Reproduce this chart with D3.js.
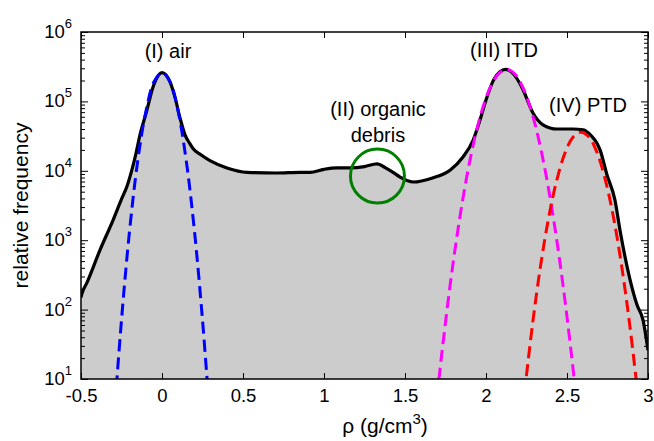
<!DOCTYPE html>
<html lang="en">
<head>
<meta charset="UTF-8">
<title>Density histogram</title>
<script src="https://d3js.org/d3.v7.min.js"></script>
<style>
  body { margin: 0; background: #fff; }
  svg text { font-family: "Liberation Sans", Arial, sans-serif; fill: #000; }
</style>
</head>
<body>
<svg id="chart" width="654" height="441"></svg>
<script>
// histogram envelope
const histRho = [-0.5, -0.494, -0.463, -0.383, -0.302, -0.25, -0.216, -0.185, -0.16, -0.136, -0.1, -0.05, 0, 0.05, 0.08, 0.111, 0.142, 0.17, 0.191, 0.24, 0.296, 0.401, 0.525, 0.71, 0.852, 0.914, 1.0, 1.08, 1.16, 1.25, 1.327, 1.38, 1.426, 1.47, 1.55, 1.67, 1.78, 1.858, 1.92, 1.963, 2.0, 2.05, 2.12, 2.21, 2.23, 2.29, 2.352, 2.438, 2.537, 2.6, 2.65, 2.685, 2.704, 2.747, 2.796, 2.827, 2.889, 2.932, 2.969, 3.0];
const histFreq = [150, 170, 245, 720, 1950, 3900, 6000, 10500, 18000, 33000, 65000, 175000, 260000, 190000, 115000, 58000, 33000, 25000, 21000, 17000, 14000, 11000, 9500, 9300, 9500, 9500, 10500, 11000, 11000, 11500, 12600, 11000, 9500, 8100, 6900, 7900, 10300, 15800, 27500, 54000, 105000, 210000, 290000, 180000, 145000, 68000, 46000, 40000, 40000, 39000, 32000, 25000, 20000, 8700, 3800, 1400, 270, 117, 71, 26];

// fitted peaks (dashed)
const airRho = [-0.29, -0.25, -0.2, -0.15, -0.1, -0.05, 0, 0.05, 0.1, 0.15, 0.2, 0.25, 0.29];
const airFreq = [4.2, 71, 1380, 13800, 70800, 190000, 260000, 190000, 70800, 13800, 1380, 71, 4.2];
const itdRho = [1.697, 1.727, 1.777, 1.827, 1.877, 1.927, 1.977, 2.027, 2.077, 2.127, 2.177, 2.227, 2.277, 2.327, 2.377, 2.427, 2.477, 2.527, 2.557];
const itdFreq = [5.4, 23, 211, 1430, 7240, 27300, 76600, 160000, 249000, 290000, 249000, 160000, 76600, 27300, 7240, 1430, 211, 23, 5.4];
const ptdRho = [2.237, 2.287, 2.337, 2.387, 2.437, 2.487, 2.537, 2.587, 2.637, 2.687, 2.737, 2.787, 2.837, 2.887, 2.937];
const ptdFreq = [6.1, 61, 430, 2130, 7360, 17900, 30400, 36000, 30400, 17900, 7360, 2130, 430, 61, 6.1];

// organic debris marker
const debrisRho = 1.33;
const debrisFreq = 8400;

const xTicks = [-0.5, 0, 0.5, 1, 1.5, 2, 2.5, 3];
const xTickLabels = ["-0.5", "0", "0.5", "1", "1.5", "2", "2.5", "3"];
const yExponents = [1, 2, 3, 4, 5, 6];

const margin = { top: 32, right: 6, bottom: 62, left: 81 };
const W = 654, H = 441;

const svg = d3.select("#chart");

const x = d3.scaleLinear().domain([-0.5, 3]).range([margin.left, W - margin.right]);
const y = d3.scaleLog().domain([10, 1e6]).range([H - margin.bottom, margin.top]);

const zip = (a, b) => a.map((v, i) => [v, b[i]]);

svg.append("clipPath").attr("id", "clip")
    .append("rect")
    .attr("x", x(-0.5)).attr("y", y(1e6))
    .attr("width", x(3) - x(-0.5)).attr("height", y(10) - y(1e6));

const plot = svg.append("g").attr("clip-path", "url(#clip)");

const hist = zip(histRho, histFreq);

// gray filled histogram
plot.append("path")
    .datum(hist)
    .attr("fill", "#cccccc")
    .attr("d", d3.area()
        .x(d => x(d[0]))
        .y0(y(10))
        .y1(d => y(d[1]))
        .curve(d3.curveMonotoneX));

plot.append("path")
    .datum(hist)
    .attr("fill", "none")
    .attr("stroke", "#000")
    .attr("stroke-width", 3.2)
    .attr("stroke-linejoin", "round")
    .attr("d", d3.line()
        .x(d => x(d[0]))
        .y(d => y(d[1]))
        .curve(d3.curveMonotoneX));

// dashed peak fits
const fits = [
    { rho: airRho, freq: airFreq, color: "#0000ff" },
    { rho: itdRho, freq: itdFreq, color: "#ff00ff" },
    { rho: ptdRho, freq: ptdFreq, color: "#ff0000" }
];

const fitLine = d3.line()
    .x(d => x(d[0]))
    .y(d => y(d[1]))
    .curve(d3.curveCatmullRom);

fits.forEach(f => {
    plot.append("path")
        .datum(zip(f.rho, f.freq))
        .attr("fill", "none")
        .attr("stroke", f.color)
        .attr("stroke-width", 3)
        .attr("stroke-dasharray", "12,6")
        .attr("d", fitLine);
});

// green circle round the organic debris bump
svg.append("circle")
    .attr("cx", x(debrisRho))
    .attr("cy", y(debrisFreq))
    .attr("r", 27)
    .attr("fill", "none")
    .attr("stroke", "#008000")
    .attr("stroke-width", 3);

// axes (ticks pointing inward, full box)
const yAll = y.ticks();
const isMajor = v => Math.abs(Math.log10(v) - Math.round(Math.log10(v))) < 1e-9;

function drawYAxis(gen, tx) {
    const g = svg.append("g").attr("transform", `translate(${tx},0)`);
    g.call(gen(y).tickValues(yAll.filter(isMajor)).tickSize(-7).tickFormat(""));
    g.append("g").call(gen(y).tickValues(yAll.filter(v => !isMajor(v))).tickSize(-4).tickFormat(""));
    g.selectAll(".domain").remove();
    g.selectAll("line").attr("stroke", "#000").attr("stroke-width", 1);
}
drawYAxis(d3.axisLeft, x(-0.5));
drawYAxis(d3.axisRight, x(3));

const xb = svg.append("g")
    .attr("transform", `translate(0,${y(10)})`)
    .call(d3.axisBottom(x).tickValues(xTicks).tickSize(-6).tickPadding(10)
        .tickFormat((d, i) => xTickLabels[i]));
xb.select(".domain").remove();
xb.selectAll("text").style("font-size", "18.5px");
xb.selectAll("line").attr("stroke-width", 1);

const xt = svg.append("g")
    .attr("transform", `translate(0,${y(1e6)})`)
    .call(d3.axisTop(x).tickValues(xTicks).tickSize(-6).tickFormat(""));
xt.select(".domain").remove();
xt.selectAll("line").attr("stroke-width", 1);

svg.append("rect")
    .attr("x", x(-0.5)).attr("y", y(1e6))
    .attr("width", x(3) - x(-0.5)).attr("height", y(10) - y(1e6))
    .attr("fill", "none")
    .attr("stroke", "#000")
    .attr("stroke-width", 1.5);

// y tick labels 10^n
yExponents.forEach(e => {
    const t = svg.append("text")
        .attr("x", x(-0.5) - 9)
        .attr("y", y(Math.pow(10, e)) + 6)
        .attr("text-anchor", "end")
        .style("font-size", "18.5px");
    t.append("tspan").text("10");
    t.append("tspan").attr("dy", -10).style("font-size", "13px").text(String(e));
});

// axis titles
svg.append("text")
    .attr("transform", `translate(28,${(y(10) + y(1e6)) / 2}) rotate(-90)`)
    .attr("text-anchor", "middle")
    .style("font-size", "21px")
    .text("relative frequency");

const xl = svg.append("text")
    .attr("x", 385)
    .attr("y", 433)
    .attr("text-anchor", "middle")
    .style("font-size", "21px");
xl.append("tspan").text("ρ (g/cm");
xl.append("tspan").attr("dy", -9).style("font-size", "15px").text("3");
xl.append("tspan").attr("dy", 9).text(")");

// peak annotations
const notes = [
    { t: "(I) air", x: 168, y: 58 },
    { t: "(II) organic", x: 378, y: 116 },
    { t: "debris", x: 378, y: 142 },
    { t: "(III) ITD", x: 504, y: 57 },
    { t: "(IV) PTD", x: 588, y: 112 }
];
svg.selectAll(".note")
    .data(notes)
    .enter().append("text")
    .attr("class", "note")
    .attr("x", d => d.x)
    .attr("y", d => d.y)
    .attr("text-anchor", "middle")
    .style("font-size", "20px")
    .text(d => d.t);
</script>
</body>
</html>
